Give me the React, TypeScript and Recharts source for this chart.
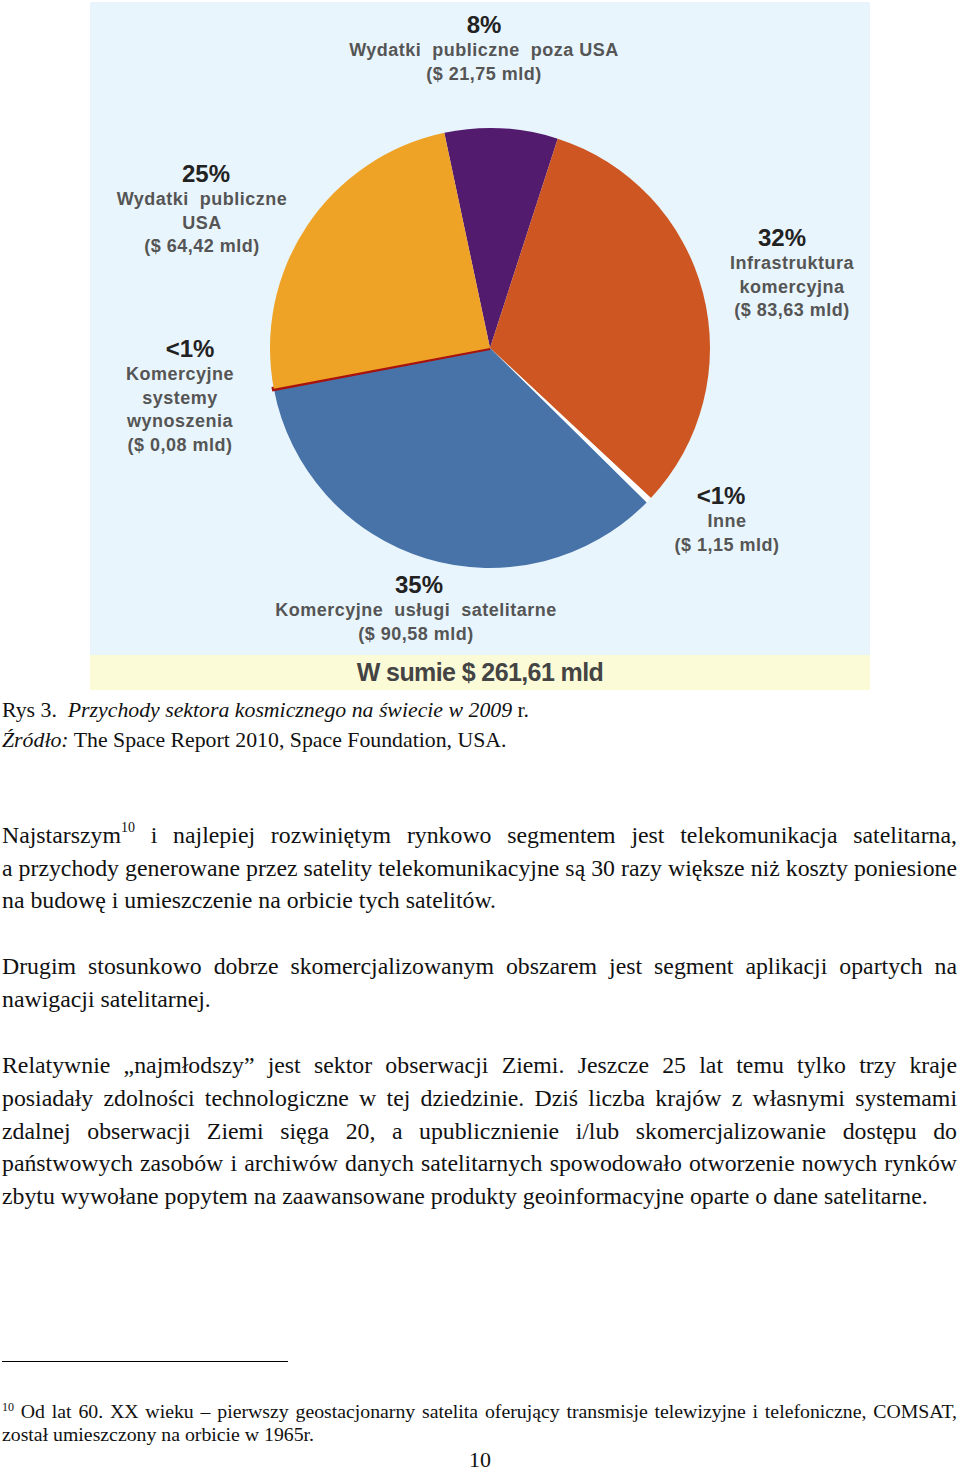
import { PieChart, Pie, Cell } from 'recharts';

// slices in clockwise order, starting at the purple one near 12 o'clock
const categories = [
    'Wydatki publiczne poza USA',
    'Infrastruktura komercyjna',
    'Inne',
    'Komercyjne usługi satelitarne',
    'Komercyjne systemy wynoszenia',
    'Wydatki publiczne USA',
];
const values = [21.75, 83.63, 1.15, 90.58, 0.08, 64.42];
const labelLines = [
    ['Wydatki  publiczne  poza USA'],
    ['Infrastruktura', 'komercyjna'],
    ['Inne'],
    ['Komercyjne  usługi  satelitarne'],
    ['Komercyjne', 'systemy', 'wynoszenia'],
    ['Wydatki  publiczne', 'USA'],
];

const COLORS = ['#531b6d', '#cd5622', '#ffffff', '#4773a9', '#a8120e', '#eea326'];
// label anchor (centre x, y of the percent line) inside the chart box, plus x shift of the percent
const LABEL_POS = [
    [394, 22, 0],
    [702, 235, -10],
    [637, 493, -6],
    [326, 582, 3],
    [90, 346, 10],
    [112, 171, 4],
];

const total = values.reduce((a, b) => a + b, 0);
const fmt = (v: number) => v.toFixed(2).replace('.', ',');
const data = categories.map((name, i) => ({ name, value: values[i] }));

const renderLabel = (props: any) => {
    const i = props.index;
    const [x, y, dx] = LABEL_POS[i];
    const pct = Math.round((values[i] / total) * 100);
    const lines = [...labelLines[i], `($ ${fmt(values[i])} mld)`];
    return (
        <g key={`lbl-${i}`}>
            <text
                x={x + dx}
                y={y}
                textAnchor="middle"
                dominantBaseline="central"
                fontFamily="'Liberation Sans', Arial, sans-serif"
                fontWeight="bold"
                fontSize={24}
                fill="#222"
            >
                {pct < 1 ? '<1%' : `${pct}%`}
            </text>
            {lines.map((l, k) => (
                <text
                    key={k}
                    x={x}
                    y={y + 26 + k * 23.5}
                    textAnchor="middle"
                    dominantBaseline="central"
                    fontFamily="'Liberation Sans', Arial, sans-serif"
                    fontWeight="bold"
                    fontSize={18}
                    letterSpacing={0.5}
                    fill="#555"
                    style={{ whiteSpace: 'pre' }}
                >
                    {l}
                </text>
            ))}
        </g>
    );
};

const serif = "'Liberation Serif', 'Times New Roman', serif";

function Line({ top, text, justify = false, size = 23.8 }: { top: number; text: any; justify?: boolean; size?: number }) {
    return (
        <div
            style={{
                position: 'absolute',
                left: 2,
                top,
                width: 955,
                fontFamily: serif,
                fontSize: size,
                lineHeight: '33px',
                color: '#111',
                whiteSpace: 'nowrap',
                textAlign: justify ? 'justify' : 'left',
                textAlignLast: justify ? 'justify' : 'left',
            }}
        >
            {text}
        </div>
    );
}

export default function App() {
    return (
        <div style={{ position: 'absolute', left: 0, top: 0, width: 960, height: 1471, background: '#fff', overflow: 'hidden' }}>
            {/* chart picture */}
            <div style={{ position: 'absolute', left: 90, top: 2, width: 780, height: 688, background: '#e9f5fd' }}>
                <div style={{ position: 'absolute', left: 0, top: 653, width: 780, height: 35, background: '#fbfbd8' }} />
                <div style={{ position: 'absolute', left: 0, top: 0 }}>
                    <PieChart width={780} height={688} margin={{ top: 0, right: 0, bottom: 0, left: 0 }}>
                        <Pie
                            data={data}
                            dataKey="value"
                            nameKey="name"
                            cx={400}
                            cy={346}
                            outerRadius={220}
                            startAngle={102}
                            endAngle={-258}
                            label={renderLabel}
                            labelLine={false}
                            isAnimationActive={false}
                        >
                            {data.map((d, i) => (
                                <Cell
                                    key={`cell-${i}`}
                                    fill={COLORS[i]}
                                    stroke={i === 4 ? COLORS[i] : 'none'}
                                    strokeWidth={i === 4 ? 4 : 0}
                                />
                            ))}
                        </Pie>
                    </PieChart>
                </div>
                <div
                    style={{
                        position: 'absolute',
                        left: 0,
                        top: 653,
                        width: 780,
                        height: 35,
                        lineHeight: '35px',
                        textAlign: 'center',
                        fontFamily: "'Liberation Sans', Arial, sans-serif",
                        fontWeight: 'bold',
                        fontSize: 25,
                        letterSpacing: -0.6,
                        color: '#444',
                    }}
                >
                    W sumie $ {fmt(total)} mld
                </div>
            </div>

            {/* caption */}
            <Line
                top={694}
                size={21.8}
                text={
                    <>
                        Rys 3.&nbsp; <i>Przychody sektora kosmicznego na świecie w 2009</i> r.
                    </>
                }
            />
            <Line
                top={724}
                size={21.8}
                text={
                    <>
                        <i>Źródło:</i> The Space Report 2010, Space Foundation, USA.
                    </>
                }
            />

            {/* body text */}
            <Line
                top={819}
                justify
                text={
                    <>
                        Najstarszym<sup style={{ fontSize: 14, verticalAlign: 'top', lineHeight: '18px' }}>10</sup> i najlepiej
                        rozwiniętym rynkowo segmentem jest telekomunikacja satelitarna,
                    </>
                }
            />
            <Line top={852} justify text="a przychody generowane przez satelity telekomunikacyjne są 30 razy większe niż koszty poniesione" />
            <Line top={884} text="na budowę i umieszczenie na orbicie tych satelitów." />

            <Line top={950} justify text="Drugim stosunkowo dobrze skomercjalizowanym obszarem jest segment aplikacji opartych na" />
            <Line top={983} text="nawigacji satelitarnej." />

            <Line top={1049} justify text="Relatywnie „najmłodszy” jest sektor obserwacji Ziemi. Jeszcze 25 lat temu tylko trzy kraje" />
            <Line top={1082} justify text="posiadały zdolności technologiczne w tej dziedzinie. Dziś liczba krajów z własnymi systemami" />
            <Line top={1115} justify text="zdalnej obserwacji Ziemi sięga 20, a upublicznienie i/lub skomercjalizowanie dostępu do" />
            <Line top={1147} justify text="państwowych zasobów i archiwów danych satelitarnych spowodowało otworzenie nowych rynków" />
            <Line top={1180} text="zbytu wywołane popytem na zaawansowane produkty geoinformacyjne oparte o dane satelitarne." />

            {/* footnote */}
            <div style={{ position: 'absolute', left: 2, top: 1361, width: 286, height: 1, background: '#000' }} />
            <div
                style={{
                    position: 'absolute',
                    left: 2,
                    top: 1400,
                    width: 955,
                    fontFamily: serif,
                    fontSize: 19.8,
                    lineHeight: '23px',
                    color: '#111',
                    textAlign: 'justify',
                    textAlignLast: 'justify',
                    whiteSpace: 'nowrap',
                }}
            >
                <sup style={{ fontSize: 12, verticalAlign: 'top', lineHeight: '14px' }}>10</sup> Od lat 60. XX wieku – pierwszy
                geostacjonarny satelita oferujący transmisje telewizyjne i telefoniczne, COMSAT,
            </div>
            <div
                style={{
                    position: 'absolute',
                    left: 2,
                    top: 1423,
                    fontFamily: serif,
                    fontSize: 19.8,
                    lineHeight: '23px',
                    color: '#111',
                    whiteSpace: 'nowrap',
                }}
            >
                został umieszczony na orbicie w 1965r.
            </div>
            <div
                style={{
                    position: 'absolute',
                    left: 0,
                    top: 1447,
                    width: 960,
                    textAlign: 'center',
                    fontFamily: serif,
                    fontSize: 22,
                    lineHeight: '26px',
                    color: '#111',
                }}
            >
                10
            </div>
        </div>
    );
}
